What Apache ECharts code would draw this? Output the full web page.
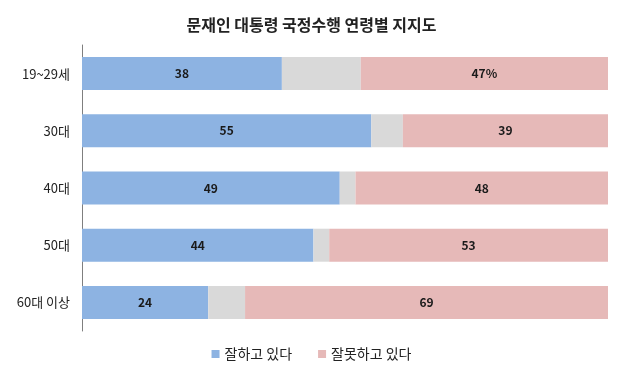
<!DOCTYPE html>
<html><head><meta charset="utf-8">
<script src="https://cdn.jsdelivr.net/npm/echarts@6/dist/echarts.min.js"></script>
<style>html,body{margin:0;padding:0;background:#fff}#c{width:623px;height:378px}</style>
</head><body><div id="c"></div>
<script>
const categories = ['19~29세', '30대', '40대', '50대', '60대 이상'];
const positive = [38, 55, 49, 44, 24];
const neutral = [15, 6, 3, 3, 7];
const negative = [47, 39, 48, 53, 69];
const negativeLabels = ['47%', '39', '48', '53', '69'];
const seriesNames = ['잘하고 있다', '', '잘못하고 있다'];
const titleText = '문재인 대통령 국정수행 연령별 지지도';

const font = '"Noto Sans CJK KR", "Noto Sans", sans-serif';
const chart = echarts.init(document.getElementById('c'));
const lbl = {show: true, position: 'inside', color: '#1a1a1a', fontWeight: 'bold', fontSize: 12, fontFamily: font};
chart.setOption({
  animation: false,
  title: {text: titleText, left: 'center', top: 12, textStyle: {fontSize: 16, fontWeight: 'bold', color: '#222', fontFamily: font}},
  legend: {data: [seriesNames[0], seriesNames[2]], bottom: 12, left: 'center', itemWidth: 8, itemHeight: 8, itemGap: 26, icon: 'rect',
    textStyle: {fontSize: 14, color: '#222', fontFamily: font}},
  grid: {left: 82, top: 45, width: 526, height: 286, containLabel: false},
  xAxis: {type: 'value', min: 0, max: 100, show: false},
  yAxis: {type: 'category', data: categories, inverse: true,
    axisLine: {show: true, lineStyle: {color: '#7f7f7f', width: 1}},
    axisTick: {show: false},
    axisLabel: {fontSize: 13, color: '#222', margin: 12, fontFamily: font}},
  series: [
    {name: seriesNames[0], type: 'bar', stack: 't', data: positive, barWidth: 33, itemStyle: {color: '#8db3e2'}, label: lbl},
    {name: 'neutral', type: 'bar', stack: 't', data: neutral, barWidth: 33, itemStyle: {color: '#d9d9d9'}, label: {show: false}},
    {name: seriesNames[2], type: 'bar', stack: 't', data: negative, barWidth: 33, itemStyle: {color: '#e6b9b8'},
      label: Object.assign({}, lbl, {formatter: p => negativeLabels[p.dataIndex]})}
  ]
});
</script></body></html>
